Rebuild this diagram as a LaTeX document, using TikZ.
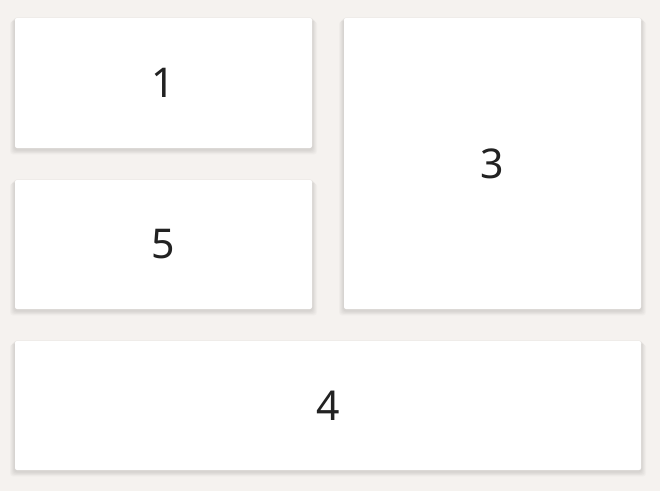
\documentclass[tikz,border=0pt]{standalone}
\usepackage{fontspec}
\setmainfont{Noto Sans}
\definecolor{bgc}{HTML}{F5F2EF}
\definecolor{txtc}{HTML}{222222}
\tikzset{
  card/.style={fill=white, draw=none, rounded corners=2pt,
    inner sep=0pt, font=\fontsize{41}{41}\selectfont, text=txtc},
}
\newcommand{\softshadow}[1]{%
  \foreach \i in {1,...,6}{%
    \fill[black, opacity=0.018, rounded corners=3pt]
      ([xshift=-\i*0.8pt, yshift=-\i*0.8pt+1.5pt]#1.north west) rectangle
      ([xshift=\i*0.8pt, yshift=-\i*0.8pt-1.5pt]#1.south east);
  }%
}
\begin{document}
\begin{tikzpicture}[x=1pt,y=-1pt]
\fill[bgc] (0,0) rectangle (660,491);
\useasboundingbox (0,0) rectangle (660,491);
\path
  node[minimum width=297pt, minimum height=130pt, inner sep=0pt] (s1) at (163.5,83) {}
  node[minimum width=297pt, minimum height=129pt, inner sep=0pt] (s5) at (163.5,244.5) {}
  node[minimum width=297pt, minimum height=291pt, inner sep=0pt] (s3) at (492.5,163.5) {}
  node[minimum width=626pt, minimum height=129pt, inner sep=0pt] (s4) at (328,405.5) {};
\softshadow{s1}\softshadow{s5}\softshadow{s3}\softshadow{s4}
\node[card, minimum width=297pt, minimum height=130pt] (c1) at (163.5,83) {1};
\node[card, minimum width=297pt, minimum height=129pt] (c5) at (163.5,244.5) {5};
\node[card, minimum width=297pt, minimum height=291pt] (c3) at (492.5,163.5) {3};
\node[card, minimum width=626pt, minimum height=129pt] (c4) at (328,405.5) {4};
\end{tikzpicture}
\end{document}
